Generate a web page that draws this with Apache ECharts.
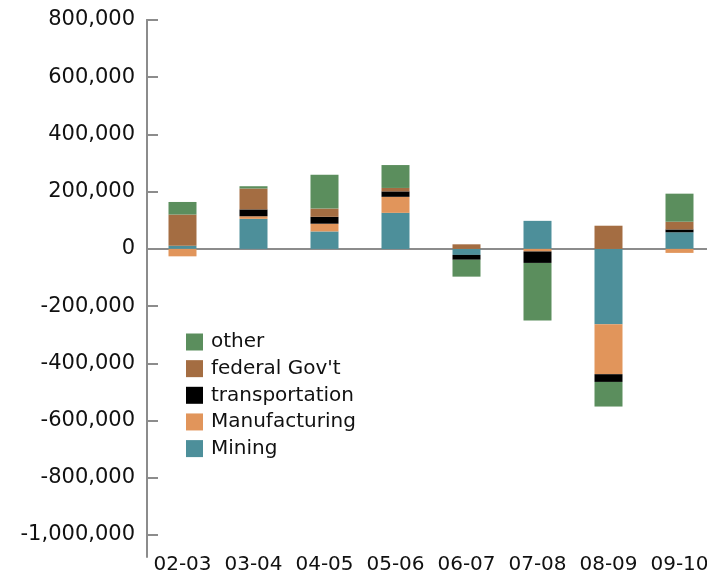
<!DOCTYPE html>
<html>
<head>
<meta charset="utf-8">
<script src="https://cdn.jsdelivr.net/npm/echarts@6/dist/echarts.min.js"></script>
<style>
html,body{margin:0;padding:0;background:#fff;}
#main{width:707px;height:574px;}
</style>
</head>
<body>
<div id="main"></div>
<script>
var categories = ['02-03','03-04','04-05','05-06','06-07','07-08','08-09','09-10'];
var mining = [11000, 105000, 61000, 126000, -21000, 98000, -263000, 58000];
var manufacturing = [-26000, 9000, 27000, 56000, 0, -9000, -175000, -14000];
var transportation = [0, 24000, 24000, 19000, -17000, -40000, -27000, 10000];
var federalGov = [109000, 73000, 29000, 12000, 16000, 0, 81000, 27000];
var other = [44000, 8000, 118000, 80000, -59000, -201000, -86000, 98000];
var legendOrder = ['other', "federal Gov't", 'transportation', 'Manufacturing', 'Mining'];

var FONT = 'DejaVu Sans';
var AXIS = '#8c8c8c';
var colors = {
  'Mining': '#4d8f9a',
  'Manufacturing': '#e1955b',
  'transportation': '#000000',
  "federal Gov't": '#a46d42',
  'other': '#5b8e5d'
};

function bar(name, data) {
  return {
    name: name, type: 'bar', stack: 'total', data: data,
    xAxisIndex: 0, yAxisIndex: 0,
    barWidth: 28,
    itemStyle: { color: colors[name] }
  };
}

var chart = echarts.init(document.getElementById('main'), null, {renderer: 'canvas'});
chart.setOption({
  animation: false,
  backgroundColor: '#ffffff',
  textStyle: { fontFamily: FONT },
  legend: {
    data: legendOrder,
    orient: 'vertical',
    left: 186, top: 332, padding: 0,
    itemWidth: 17, itemHeight: 17, itemGap: 6.65,
    icon: 'rect',
    textStyle: { fontFamily: FONT, fontSize: 20, color: '#111', lineHeight: 20, padding: [0,0,0,3] }
  },
  grid: [
    { left: 147, width: 568, top: 20, bottom: 39, containLabel: false, outerBoundsMode: 'none' },
    { left: 147, width: 568, top: 20, bottom: 17, containLabel: false, outerBoundsMode: 'none' }
  ],
  xAxis: [
    {
      type: 'category', data: categories, gridIndex: 0,
      axisLine: { onZero: true, lineStyle: { color: AXIS, width: 2 } },
      axisTick: { inside: true, length: 11, lineStyle: { color: AXIS, width: 2 } },
      axisLabel: { show: false }
    },
    {
      type: 'category', data: categories, gridIndex: 0, position: 'bottom',
      axisLine: { show: false, onZero: false },
      axisTick: { show: false },
      axisLabel: { margin: 20, fontFamily: FONT, fontSize: 20, color: '#111', interval: 0, hideOverlap: false }
    },
    {
      type: 'category', data: categories, gridIndex: 1, show: false
    }
  ],
  yAxis: [
    {
      type: 'value', gridIndex: 0,
      min: -1000000, max: 800000, interval: 200000,
      axisLine: { show: true, lineStyle: { color: AXIS, width: 2 } },
      axisTick: { show: true, inside: true, length: 11, lineStyle: { color: AXIS, width: 2 } },
      splitLine: { show: false },
      axisLabel: {
        margin: 12, fontFamily: FONT, fontSize: 21, color: '#111',
        padding: [5, 0, 0, 0],
        formatter: function (v) { return v.toLocaleString('en-US'); }
      }
    },
    {
      type: 'value', gridIndex: 1, min: 0, max: 1,
      axisLine: { show: true, lineStyle: { color: AXIS, width: 2 } },
      axisTick: { show: false }, axisLabel: { show: false }, splitLine: { show: false }
    }
  ],
  series: [
    bar('Mining', mining),
    bar('Manufacturing', manufacturing),
    bar('transportation', transportation),
    bar("federal Gov't", federalGov),
    bar('other', other)
  ]
});
</script>
</body>
</html>
